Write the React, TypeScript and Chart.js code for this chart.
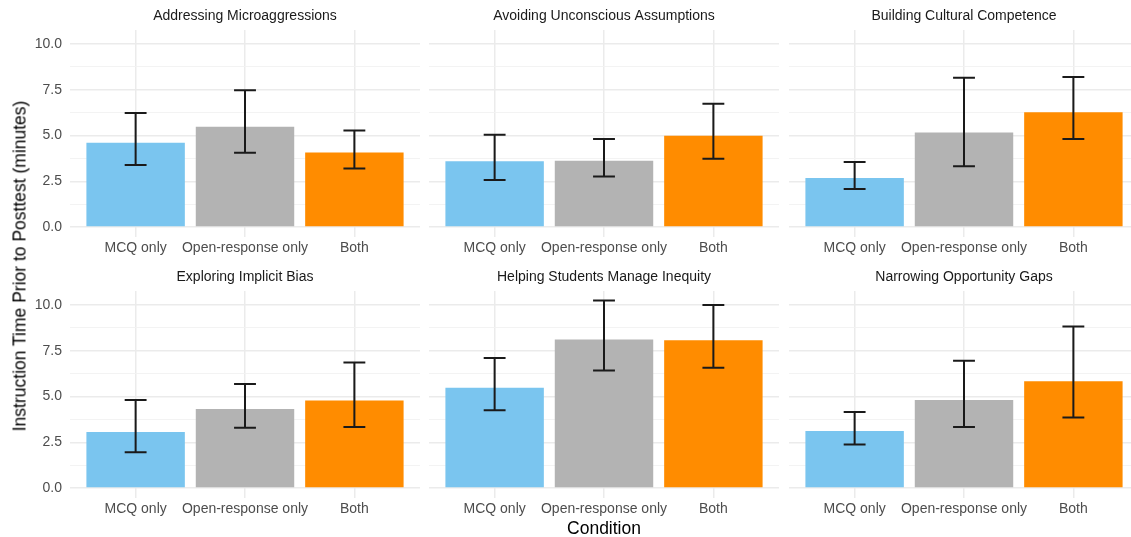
import React, { useEffect, useRef } from "react";
import { Chart, registerables } from "chart.js";

Chart.register(...registerables);

// ---------- data ----------
const facets = [
  "Addressing Microaggressions",
  "Avoiding Unconscious Assumptions",
  "Building Cultural Competence",
  "Exploring Implicit Bias",
  "Helping Students Manage Inequity",
  "Narrowing Opportunity Gaps",
];
const conditions = ["MCQ only", "Open-response only", "Both"];
const conditionColors = ["#7AC5EF", "#B3B3B3", "#FF8C00"];

// mean instruction time per facet, order = conditions
const meanAddressing = [4.6, 5.48, 4.08];
const meanAvoiding = [3.59, 3.62, 4.99];
const meanBuilding = [2.68, 5.17, 6.27];
const meanExploring = [3.07, 4.32, 4.79];
const meanHelping = [5.48, 8.11, 8.08];
const meanNarrowing = [3.12, 4.81, 5.83];

// error bar lower bounds
const lowAddressing = [3.39, 4.06, 3.2];
const lowAvoiding = [2.57, 2.77, 3.73];
const lowBuilding = [2.08, 3.32, 4.81];
const lowExploring = [1.96, 3.3, 3.34];
const lowHelping = [4.25, 6.42, 6.57];
const lowNarrowing = [2.38, 3.34, 3.85];

// error bar upper bounds
const highAddressing = [6.23, 7.47, 5.28];
const highAvoiding = [5.04, 4.81, 6.74];
const highBuilding = [3.55, 8.16, 8.2];
const highExploring = [4.81, 5.68, 6.86];
const highHelping = [7.11, 10.25, 10.0];
const highNarrowing = [4.16, 6.95, 8.82];

const yMajorTicks = [0, 2.5, 5, 7.5, 10];
const yMinorTicks = [1.25, 3.75, 6.25, 8.75];
const yMin = -0.5125;
const yMax = 10.7625;

const means = [meanAddressing, meanAvoiding, meanBuilding, meanExploring, meanHelping, meanNarrowing];
const lows = [lowAddressing, lowAvoiding, lowBuilding, lowExploring, lowHelping, lowNarrowing];
const highs = [highAddressing, highAvoiding, highBuilding, highExploring, highHelping, highNarrowing];

// ---------- layout / style ----------
const FONT = "'Liberation Sans', Arial, Helvetica, sans-serif";
const GRID_MAJOR = "#EBEBEB";
const GRID_MINOR = "#F2F2F2";
const PLOT_LEFT = [70, 429, 788.5];
const PLOT_W = 350;
const Y_AXIS_W = 40;
const TITLE_H = 30;
const PLOT_H = 206.5;
const ROW_CANVAS_TOP = [0, 261];
const X_AXIS_H = 30.5;

const errorBarPlugin = {
  id: "errorBars",
  afterDatasetsDraw(chart: any, _args: any, opts: any) {
    const { ctx } = chart;
    const xs = chart.scales.x;
    const ys = chart.scales.y;
    const lo: number[] = opts.low || [];
    const hi: number[] = opts.high || [];
    ctx.save();
    ctx.strokeStyle = "#1A1A1A";
    ctx.lineWidth = 2;
    ctx.lineCap = "butt";
    lo.forEach((l, i) => {
      const xv = i + 1;
      const cx = xs.getPixelForValue(xv);
      const x0 = xs.getPixelForValue(xv - 0.1);
      const x1 = xs.getPixelForValue(xv + 0.1);
      const yl = ys.getPixelForValue(l);
      const yh = ys.getPixelForValue(hi[i]);
      ctx.beginPath();
      ctx.moveTo(x0, yh);
      ctx.lineTo(x1, yh);
      ctx.moveTo(cx, yh);
      ctx.lineTo(cx, yl);
      ctx.moveTo(x0, yl);
      ctx.lineTo(x1, yl);
      ctx.stroke();
    });
    ctx.restore();
  },
};

function Panel({ index }: { index: number }) {
  const ref = useRef<HTMLCanvasElement>(null);
  const col = index % 3;
  const row = Math.floor(index / 3);
  const showY = col === 0;
  const left = PLOT_LEFT[col] - (showY ? Y_AXIS_W : 0);
  const width = PLOT_W + (showY ? Y_AXIS_W : 0);
  const top = ROW_CANVAS_TOP[row];
  const height = TITLE_H + PLOT_H + X_AXIS_H;

  useEffect(() => {
    const chart = new Chart(ref.current as HTMLCanvasElement, {
      type: "bar",
      data: {
        datasets: [
          {
            data: conditions.map((_, i) => ({ x: i + 1, y: means[index][i] })) as any,
            backgroundColor: conditionColors,
            borderWidth: 0,
            categoryPercentage: 0.9,
            barPercentage: 1,
          },
        ],
      },
      options: {
        animation: false,
        responsive: true,
        maintainAspectRatio: false,
        layout: { padding: 0 },
        plugins: {
          legend: { display: false },
          tooltip: { enabled: false },
          title: {
            display: true,
            text: facets[index],
            fullSize: false,
            color: "#1A1A1A",
            font: { family: FONT, size: 14, weight: "normal" as any, lineHeight: 1.2 },
            padding: { top: 7.5, bottom: 5.7 },
          },
          errorBars: { low: lows[index], high: highs[index] },
        } as any,
        scales: {
          x: {
            type: "linear",
            min: 0.4,
            max: 3.6,
            offset: false,
            border: { display: false },
            grid: { color: GRID_MAJOR, lineWidth: 1.5, drawTicks: false, offset: false },
            ticks: {
              color: "#4D4D4D",
              font: { family: FONT, size: 14 },
              padding: 3,
              autoSkip: false,
              maxRotation: 0,
              callback: (v: any) => conditions[Number(v) - 1] ?? "",
            },
            afterBuildTicks: (s: any) => {
              s.ticks = conditions.map((_, i) => ({ value: i + 1 }));
            },
            afterFit: (s: any) => {
              s.height = X_AXIS_H;
            },
          },
          y: {
            type: "linear",
            min: yMin,
            max: yMax,
            border: { display: false },
            grid: {
              drawTicks: false,
              color: (c: any) => (yMajorTicks.includes(c.tick?.value) ? GRID_MAJOR : GRID_MINOR),
              lineWidth: (c: any) => (yMajorTicks.includes(c.tick?.value) ? 1.5 : 0.9),
            },
            ticks: {
              display: showY,
              color: "#4D4D4D",
              font: { family: FONT, size: 14 },
              padding: 8,
              callback: (v: any) => (yMajorTicks.includes(Number(v)) ? Number(v).toFixed(1) : ""),
            },
            afterBuildTicks: (s: any) => {
              s.ticks = [...yMajorTicks, ...yMinorTicks]
                .sort((a, b) => a - b)
                .map((v) => ({ value: v }));
            },
            afterFit: (s: any) => {
              s.width = showY ? Y_AXIS_W : 0;
            },
          },
        },
      },
      plugins: [errorBarPlugin as any],
    });
    return () => chart.destroy();
  }, [index]);

  return (
    <div style={{ position: "absolute", left, top, width, height }}>
      <canvas ref={ref} />
    </div>
  );
}

export default function App() {
  return (
    <div
      style={{
        position: "absolute",
        left: 0,
        top: 0,
        width: 1131,
        height: 537,
        overflow: "hidden",
        background: "#FFFFFF",
        fontFamily: FONT,
      }}
    >
      {facets.map((_, i) => (
        <Panel key={i} index={i} />
      ))}
      <div
        style={{
          position: "absolute",
          left: 20,
          top: 266,
          transform: "translate(-50%, -50%) rotate(-90deg)",
          whiteSpace: "nowrap",
          fontSize: 17.5,
          color: "#000000",
        }}
      >
        Instruction Time Prior to Posttest (minutes)
      </div>
      <div
        style={{
          position: "absolute",
          left: 604,
          top: 527.5,
          transform: "translate(-50%, -50%)",
          whiteSpace: "nowrap",
          fontSize: 17.5,
          color: "#000000",
        }}
      >
        Condition
      </div>
    </div>
  );
}
